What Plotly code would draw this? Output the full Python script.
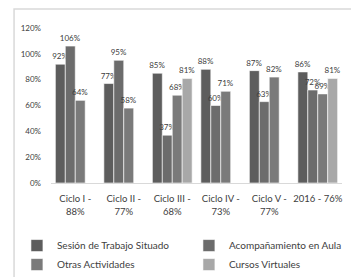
import plotly.graph_objects as go

categories = ["Ciclo I -<br>88%", "Ciclo II -<br>77%", "Ciclo III -<br>68%", "Ciclo IV -<br>73%", "Ciclo V -<br>77%", "2016 - 76%"]
series_names = ["Sesión de Trabajo Situado", "Acompañamiento en Aula", "Otras Actividades", "Cursos Virtuales"]
sesion = [92, 77, 85, 88, 87, 86]
acompanamiento = [106, 95, 37, 60, 63, 72]
otras = [64, 58, 68, 71, 82, 69]
cursos = [None, None, 81, None, None, 81]
ytick_vals = [0, 20, 40, 60, 80, 100, 120]
ytick_text = ["0%", "20%", "40%", "60%", "80%", "100%", "120%"]
colors = ["#5d5d5d", "#6c6c6c", "#7a7a7a", "#a8a8a8"]
legend_ids = ["legend", "legend2", "legend", "legend2"]

fig = go.Figure()
for name, vals, col, lg in zip(series_names, [sesion, acompanamiento, otras, cursos], colors, legend_ids):
    fig.add_trace(go.Bar(
        x=categories, y=vals, name=name, legend=lg,
        marker=dict(color=col, line=dict(color="white", width=0.6)),
        text=[f"{v}%" if v is not None else "" for v in vals],
        textposition="outside", cliponaxis=False,
        textfont=dict(size=8, color="#404040", family="Lato"),
    ))

legend_common = dict(orientation="v", yanchor="top", itemwidth=30, bgcolor="rgba(0,0,0,0)",
                     font=dict(size=10, color="#404040"), traceorder="normal")
fig.update_layout(
    width=351, height=269,
    margin=dict(l=43, r=17, t=20, b=94, autoexpand=False),
    paper_bgcolor="white", plot_bgcolor="white",
    barmode="group", bargap=0.18, bargroupgap=0,
    font=dict(family="Lato", size=9, color="#404040"),
    showlegend=True,
    legend=dict(x=-0.117, xanchor="left", y=-0.31, **legend_common),
    legend2=dict(x=0.474, xanchor="left", y=-0.31, **legend_common),
    uniformtext=dict(minsize=7, mode="show"),
    shapes=[dict(type="rect", xref="paper", yref="paper", x0=-0.127, x1=1.055, y0=-0.63, y1=1.123,
                 line=dict(color="#d9d9d9", width=1.5), fillcolor="rgba(0,0,0,0)", layer="below")],
)
fig.update_yaxes(range=[0, 120], tickvals=ytick_vals, ticktext=ytick_text,
                 showgrid=False, zeroline=False, showline=False, ticklabelstandoff=9,
                 tickfont=dict(size=8, color="#404040"), ticklen=0)
fig.update_xaxes(showline=True, linecolor="#d9d9d9", linewidth=1, showgrid=False, ticklabelstandoff=7,
                 tickfont=dict(size=9.5, color="#404040"))

fig.write_html("out.html")
